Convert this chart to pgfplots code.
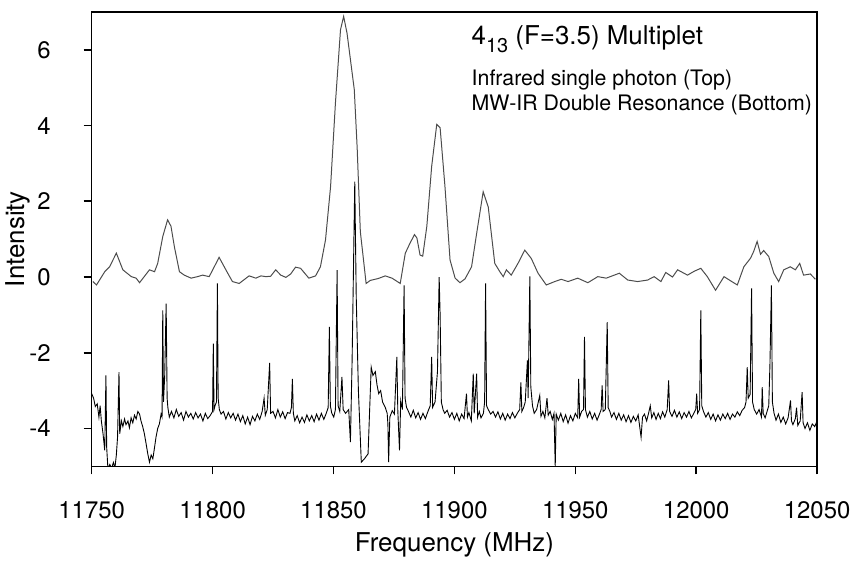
\documentclass[border=0pt]{standalone}
\usepackage{pgfplots}
\pgfplotsset{compat=1.18}
\usepackage{fontspec}
\setmainfont{TeX Gyre Heros}
\begin{document}
\begin{tikzpicture}
\begin{axis}[
  scale only axis,
  width=364pt, height=228pt,
  xmin=11750, xmax=12050, ymin=-5, ymax=7,
  xtick={11750,11800,11850,11900,11950,12000,12050},
  ytick={-4,-2,0,2,4,6},
  scaled x ticks=false,
  xtick pos=bottom, ytick pos=left,
  tick align=outside,
  major tick length=4pt,
  tick style={black, line width=0.8pt},
  axis line style={line width=0.8pt},
  /pgf/number format/assume math mode=true,
  /pgf/number format/1000 sep={},
  xticklabel style={/pgf/number format/fixed, /pgf/number format/precision=0, yshift=-10pt},
  yticklabel style={xshift=-13pt},
  ticklabel style={font=\fontsize{12}{14}\selectfont},
  clip mode=individual,
]
\addplot[gray!60!black, line width=0.5pt] coordinates {
(11750.5,-0.12) (11752,-0.21) (11755.4,0.14) (11757.4,0.27) (11760.2,0.63) (11762.9,0.19)
(11766.4,0.01) (11768.4,-0.03) (11769.8,-0.15) (11773.9,0.19) (11776,0.14) (11777.3,0.36)
(11779.4,1.07) (11781.4,1.51) (11782.8,1.34) (11784.2,0.80) (11786.3,0.14) (11788.3,0.05)
(11791.1,-0.03) (11793.8,0.01) (11795.9,0.05) (11798.6,0.01) (11800.7,0.27) (11802.7,0.52)
(11805.5,0.19) (11808.2,-0.12) (11811,-0.17) (11815.1,0.03) (11817.9,-0.03) (11820,0.03)
(11822,0.01) (11824,0.02) (11826.1,0.19) (11828.2,0.05) (11830.3,-0.01) (11832.3,0.08)
(11834.3,0.26) (11836.4,0.23) (11839.8,-0.03) (11842.6,0.03) (11844.6,0.27) (11846.7,0.98)
(11848.8,2.39) (11850.8,4.59) (11852.9,6.53) (11854.2,6.88) (11855.6,6.44) (11858.6,4.95)
(11859.8,3.4) (11861.1,1.2) (11863.5,-0.17) (11865.2,-0.09) (11868.5,-0.04) (11871.4,0.03)
(11874.2,-0.03) (11877.6,-0.17) (11879.7,0.63) (11881.7,0.90) (11883.5,1.12) (11884.5,1.03)
(11885.8,0.58) (11886.9,0.55) (11888.6,1.34) (11890.6,2.92) (11892.7,4.03) (11894.1,3.94)
(11896.1,2.39) (11898.2,0.45) (11900.3,-0.03) (11902.3,-0.15) (11904.4,-0.05) (11907.1,0.27)
(11909.2,1.15) (11911.9,2.25) (11914,1.85) (11916.7,0.36) (11918.8,0.14) (11920.2,0.01)
(11921.5,0.19) (11923.5,0.05) (11926.3,0.36) (11929.1,0.71) (11931.8,0.49) (11934.6,0.10)
(11938,-0.21) (11941.5,-0.12) (11944.2,-0.06) (11947,-0.12) (11951,-0.03) (11955.2,-0.15)
(11959.3,0.01) (11962.8,-0.03) (11968.2,0.10) (11971.7,-0.08) (11975.8,-0.12) (11979.9,-0.08)
(11982.6,0.01) (11985.4,-0.12) (11987.4,0.12) (11990.2,0.0) (11992.3,0.19) (11996.4,0.05)
(11999.1,0.15) (12001.9,0.23) (12004.6,0.01) (12008,-0.35) (12011.5,0.01) (12014.2,-0.1)
(12017,-0.21) (12019.7,0.27) (12022.5,0.5) (12023.8,0.68) (12025.2,0.94) (12026.6,0.6)
(12027.9,0.7) (12030,0.54) (12032.1,0.10) (12034.1,-0.12) (12036.2,0.19) (12038.9,0.27)
(12041,0.19) (12042.8,0.36) (12044.4,0.05) (12047.2,0.08) (12049.3,-0.06)
};
\addplot[black, line width=0.45pt] coordinates {
(11750,-3.08) (11750.8,-3.2) (11751.5,-3.42) (11752.3,-3.35) (11753,-3.70) (11753.5,-3.40)
(11754,-3.8) (11754.7,-4.14) (11755.4,-4.58) (11755.9,-2.60) (11756.2,-4.49) (11756.7,-5.05)
(11757.5,-4.95) (11758.2,-5.05) (11759,-4.9) (11759.6,-5.05) (11760.2,-4.7) (11760.7,-4.23)
(11761.3,-2.51) (11761.6,-4.14) (11762.3,-3.8) (11762.9,-3.95) (11763.6,-3.75) (11764.2,-3.9)
(11765,-3.8) (11765.6,-3.98) (11766.3,-3.72) (11767,-3.85) (11767.7,-3.65) (11768.4,-3.75)
(11769.1,-3.55) (11769.8,-3.62) (11770.4,-3.8) (11771.1,-3.95) (11771.8,-4.14) (11772.5,-4.4)
(11773.2,-4.67) (11773.9,-4.89) (11774.6,-4.7) (11775.3,-4.8) (11776,-4.5) (11776.6,-4.23)
(11777.3,-4.0) (11778,-3.88) (11778.7,-3.62) (11779.1,-3.7) (11779.4,-0.88) (11779.7,-3.3)
(11780.2,-2.6) (11780.8,-0.70) (11781.2,-3.2) (11781.5,-3.44) (11782.1,-3.70)
(11783,-3.55) (11784,-3.72) (11785,-3.5) (11786,-3.68) (11787,-3.58) (11788,-3.78)
(11789,-3.55) (11790,-3.7) (11791,-3.6) (11792,-3.75) (11793,-3.58) (11794,-3.72)
(11795,-3.62) (11796,-3.8) (11797,-3.6) (11798,-3.74) (11799,-3.66) (11800,-3.55)
(11800.3,-1.76) (11800.6,-3.5) (11801,-3.4) (11801.6,-3.3) (11802,-0.17) (11802.3,-3.2)
(11802.8,-3.5) (11803.5,-3.62) (11804.5,-3.55) (11805.5,-3.75) (11806.5,-3.58) (11807.5,-3.72)
(11808.5,-3.6) (11809.5,-3.78) (11810.5,-3.62) (11811.5,-3.82) (11812.5,-3.66) (11813.5,-3.88)
(11814.5,-3.7) (11815.5,-3.9) (11816.5,-3.68) (11817.5,-3.8) (11818.5,-3.62) (11819.5,-3.76)
(11820.5,-3.55) (11821.3,-3.2) (11821.8,-3.65) (11822.6,-3.5) (11823.6,-2.27) (11824,-3.6)
(11825,-3.55) (11826,-3.72) (11827,-3.5) (11828,-3.7) (11829,-3.56) (11830,-3.74)
(11831,-3.58) (11832,-3.6) (11832.6,-3.45) (11833,-2.69) (11833.4,-3.6) (11834,-3.8)
(11835,-3.66) (11836,-3.85) (11837,-3.7) (11838,-3.84) (11839,-3.64) (11840,-3.8)
(11841,-3.66) (11842,-3.82) (11843,-3.62) (11844,-3.78) (11845,-3.6) (11846,-3.76)
(11847,-3.6) (11847.8,-3.45) (11848.3,-1.32) (11848.7,-3.4) (11849.3,-3.6) (11850.1,-3.70)
(11850.8,-3.5) (11851.5,0.18) (11851.9,-3.4) (11852.6,-3.55) (11853.5,-2.64) (11854,-3.5)
(11855,-3.6) (11856.3,-3.5) (11857,-4.36) (11857.7,-2.2) (11858.8,2.52) (11859.4,-0.5)
(11860.3,-3.0) (11861.5,-4.89) (11862.8,-4.8) (11864.3,-4.67) (11864.9,-3.6) (11865.6,-2.38)
(11866.3,-2.6) (11867.3,-2.5) (11868,-2.85) (11868.7,-3.08) (11869.5,-3.0) (11870.3,-3.3)
(11871.4,-3.44) (11872.2,-3.6) (11872.5,-3.88) (11872.8,-4.89) (11873.3,-3.70) (11874.3,-3.53)
(11875.2,-3.62) (11876.2,-2.11) (11876.6,-3.53) (11877.3,-4.58) (11877.8,-3.26) (11878.5,-3.5)
(11879.2,-0.22) (11879.6,-3.2) (11880.2,-3.44) (11881,-3.55) (11882,-3.7) (11883,-3.52)
(11884,-3.72) (11885,-3.58) (11886,-3.76) (11887,-3.6) (11888,-3.74) (11889,-3.56)
(11890,-3.4) (11890.6,-2.11) (11891,-3.44) (11892,-3.3) (11893,-2.5) (11893.7,0.0)
(11894.1,-1.0) (11894.6,-3.3) (11895.3,-3.5) (11896,-3.6) (11897,-3.52) (11898,-3.7)
(11899,-3.58) (11900,-3.76) (11901,-3.6) (11902,-3.8) (11903,-3.62) (11904,-3.74)
(11905,-3.08) (11905.4,-3.7) (11906,-3.58) (11907,-3.8) (11907.8,-2.55) (11908.2,-3.6)
(11909.2,-2.55) (11909.6,-3.7) (11910.3,-3.55) (11911,-3.72) (11912,-3.6) (11912.5,-3.3)
(11912.9,-0.17) (11913.3,-3.4) (11914,-3.5) (11915,-3.62) (11916,-3.55) (11917,-3.7)
(11918,-3.56) (11919,-3.75) (11920,-3.6) (11921,-3.78) (11922,-3.62) (11923,-3.74)
(11924,-3.58) (11925,-3.72) (11926,-3.6) (11927,-3.5) (11927.5,-2.78) (11927.9,-3.55)
(11928.6,-3.45) (11929.3,-3.3) (11930.2,-2.2) (11930.5,-3.2) (11931.2,0.02) (11931.6,-2.9)
(11932.3,-3.4) (11933,-3.6) (11934,-3.5) (11935.3,-3.13) (11935.8,-3.68) (11936.6,-3.55)
(11937.4,-3.72) (11938.3,-3.2) (11938.8,-3.65) (11939.6,-3.55) (11940.5,-3.76) (11941.2,-3.6)
(11941.7,-5.0) (11942.1,-3.62) (11943,-3.78) (11944,-3.6) (11945,-3.82) (11946,-3.64)
(11947,-3.86) (11948,-3.66) (11949,-3.8) (11950,-3.6) (11951,-3.72) (11951.4,-2.69)
(11951.8,-3.7) (11952.6,-3.55) (11953.4,-3.5) (11953.8,-1.58) (11954.2,-3.5) (11955,-3.7)
(11956,-3.55) (11957,-3.75) (11958,-3.6) (11959,-3.78) (11960,-3.62) (11960.7,-3.5)
(11961.1,-2.86) (11961.5,-3.55) (11962.4,-3.5) (11963.2,-1.19) (11963.6,-3.45) (11964.3,-3.55)
(11965,-3.7) (11966,-3.58) (11967,-3.76) (11968,-3.6) (11969,-3.78) (11970,-3.64)
(11971,-3.82) (11972,-3.66) (11973,-3.84) (11974,-3.68) (11975,-3.8) (11976,-3.64)
(11977.2,-4.23) (11977.8,-3.7) (11978.6,-3.62) (11979.5,-3.8) (11980.3,-3.6) (11981,-3.4)
(11981.6,-3.72) (11982.5,-3.58) (11983.4,-3.76) (11984.3,-3.6) (11985.2,-3.74) (11986.1,-3.56)
(11987,-3.7) (11988,-3.5) (11988.6,-2.73) (11989,-3.55) (11990,-3.68) (11991,-3.52)
(11992,-3.7) (11993,-3.56) (11994,-3.74) (11995,-3.58) (11996,-3.7) (11997,-3.55)
(11998,-3.72) (11999,-3.6) (11999.8,-3.5) (12000.2,-3.08) (12000.6,-3.6) (12001.4,-3.5)
(12001.9,-0.88) (12002.3,-3.4) (12003,-3.55) (12004,-3.7) (12005,-3.58) (12006,-3.76)
(12007,-3.62) (12008,-3.8) (12009,-3.64) (12010,-3.78) (12011,-3.62) (12012,-3.74)
(12013,-3.6) (12014,-3.76) (12015,-3.62) (12016,-3.7) (12017,-3.56) (12018,-3.66)
(12019,-3.52) (12020,-3.45) (12020.6,-3.3) (12021.1,-2.38) (12021.5,-3.2) (12022.3,-3.1)
(12022.9,-0.30) (12023.3,-3.3) (12024,-3.5) (12025,-3.62) (12026,-3.5) (12027,-3.7)
(12027.3,-2.91) (12027.7,-3.6) (12028.5,-3.72) (12029.3,-3.55) (12030,-3.4) (12030.5,-2.29)
(12031.1,-0.22) (12031.5,-3.3) (12032.2,-3.6) (12033,-3.78) (12034,-3.62) (12035,-3.84)
(12036,-3.7) (12037,-3.88) (12038,-3.72) (12039,-3.26) (12039.4,-3.8) (12040,-3.9)
(12041,-3.74) (12041.5,-3.45) (12042,-3.92) (12043,-3.8) (12043.8,-3.04) (12044.2,-3.85)
(12045,-4.0) (12046,-3.85) (12047,-4.05) (12048,-3.88) (12049,-3.95) (12050,-3.8)
};
\node[anchor=base west, inner sep=0pt, font=\fontsize{13}{15}\selectfont] at (axis cs:11907,6.13)
  {4\raisebox{-4pt}{\fontsize{10}{10}\selectfont 13} (F=3.5) Multiplet};
\node[anchor=base west, inner sep=0pt, font=\fontsize{10.7}{12}\selectfont] at (axis cs:11907,5.05)
  {Infrared single photon (Top)};
\node[anchor=base west, inner sep=0pt, font=\fontsize{10.7}{12}\selectfont] at (axis cs:11907,4.41)
  {MW-IR Double Resonance (Bottom)};
\end{axis}
\node[rotate=90, anchor=center, inner sep=0pt, font=\fontsize{13}{15}\selectfont]
  at (-37pt,114pt) {Intensity};
\node[anchor=base, inner sep=0pt, font=\fontsize{13}{15}\selectfont]
  at (182pt,-42.5pt) {Frequency (MHz)};
\path[use as bounding box] (-46pt,-47pt) rectangle (382.5pt,234pt);
\end{tikzpicture}
\end{document}
